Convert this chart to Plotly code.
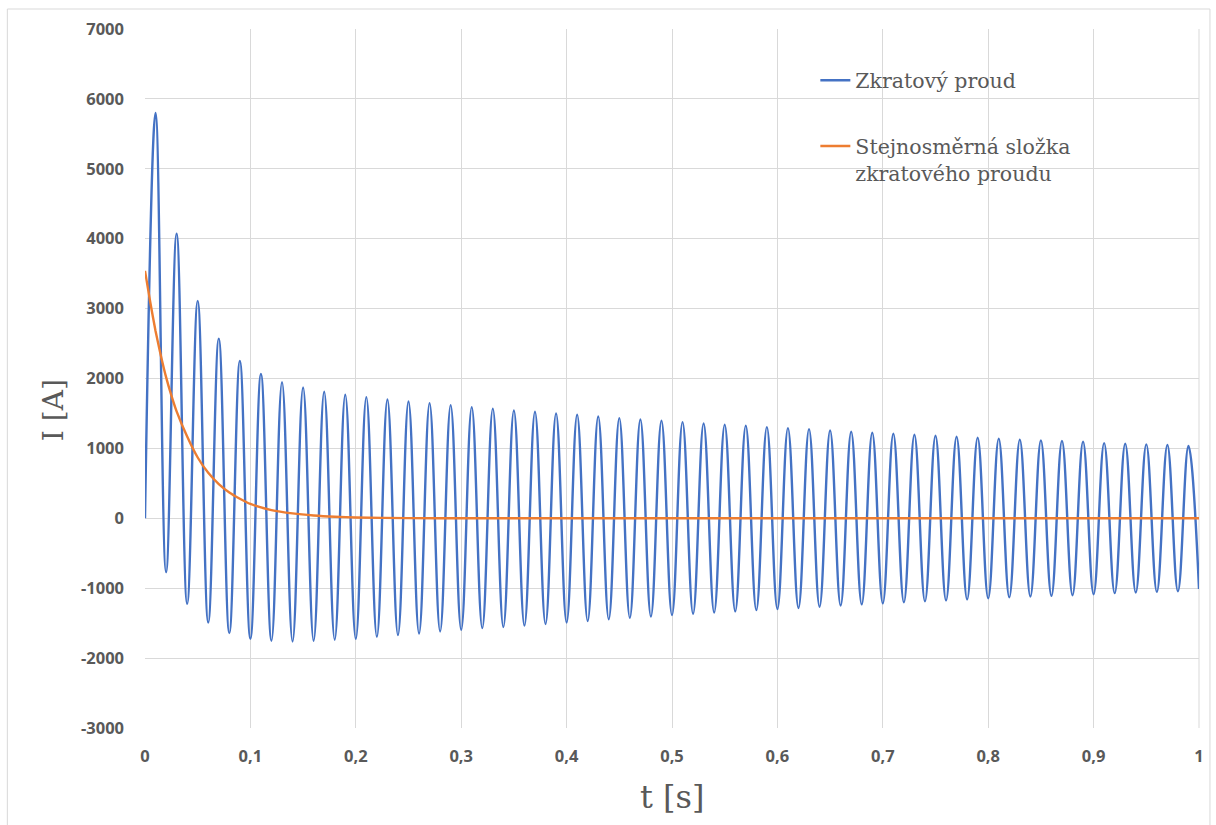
import numpy as np
import plotly.graph_objects as go

# Short-circuit current: local maxima (odd half-periods) and minima (even half-periods), in A
peak_t = np.round(np.arange(0.01, 1.0, 0.02), 2)
peak_i = [5800, 4070, 3110, 2570, 2250, 2065, 1948, 1871, 1810, 1767,
          1733, 1700, 1671, 1648, 1619, 1590, 1569, 1543, 1524, 1500,
          1481, 1457, 1433, 1414, 1395, 1376, 1357, 1338, 1324, 1305,
          1290, 1276, 1257, 1239, 1224, 1210, 1195, 1181, 1167, 1152,
          1138, 1124, 1114, 1105, 1095, 1076, 1067, 1057, 1048, 1034]

trough_t = np.round(np.arange(0.0, 1.0001, 0.02), 2)
trough_i = [0, -770, -1224, -1491, -1643, -1724, -1752, -1762, -1752, -1738,
            -1724, -1695, -1671, -1648, -1619, -1595, -1571, -1555, -1535, -1512,
            -1490, -1470, -1445, -1424, -1405, -1385, -1366, -1347, -1331, -1314,
            -1298, -1283, -1266, -1248, -1231, -1217, -1202, -1188, -1174, -1160,
            -1145, -1131, -1119, -1110, -1100, -1086, -1071, -1062, -1052, -1043,
            -1010]

# DC component of the short-circuit current
dc_t = [0, 0.005, 0.01, 0.015, 0.02, 0.025, 0.03, 0.04, 0.05, 0.06, 0.07,
        0.08, 0.09, 0.1, 0.12, 0.14, 0.16, 0.18, 0.2, 0.25, 0.3, 1.0]
dc_i = [3540, 3090, 2680, 2330, 2020, 1760, 1530, 1170, 870, 650, 490,
        370, 280, 205, 118, 70, 40, 22, 12, 3, 0, 0]

# axis ticks
y_ticks = [-3000, -2000, -1000, 0, 1000, 2000, 3000, 4000, 5000, 6000, 7000]
y_labels = ["-3000", "-2000", "-1000", "0", "1000", "2000", "3000",
            "4000", "5000", "6000", "7000"]
x_ticks = [0, 0.1, 0.2, 0.3, 0.4, 0.5, 0.6, 0.7, 0.8, 0.9, 1]
x_labels = ["0", "0,1", "0,2", "0,3", "0,4", "0,5", "0,6", "0,7", "0,8", "0,9", "1"]

# merge maxima and minima in time order
blue_t, blue_i = [], []
for k in range(len(trough_t)):
    blue_t.append(trough_t[k]); blue_i.append(trough_i[k])
    if k < len(peak_t):
        blue_t.append(peak_t[k]); blue_i.append(peak_i[k])

GRAY = "#595959"
GRID = "#d9d9d9"
TICKFONT = dict(family="Open Sans", size=16.5, color=GRAY, weight=700)
SERIF = "DejaVu Serif"

fig = go.Figure()
fig.add_trace(go.Scatter(
    x=blue_t, y=blue_i, mode="lines", name="Zkratový proud",
    line=dict(color="#4472C4", width=2.4, shape="spline", smoothing=1.15),
    legendgroup="a"))
fig.add_trace(go.Scatter(
    x=dc_t, y=dc_i, mode="lines", name="Stejnosměrná složka<br>zkratového proudu",
    line=dict(color="#ED7D31", width=2.4, shape="spline", smoothing=0.6),
    legendgroup="b"))

fig.update_layout(
    width=1216, height=825,
    margin=dict(l=145, r=14, t=29, b=97),
    paper_bgcolor="white", plot_bgcolor="white",
    showlegend=True,
    legend=dict(x=0.636, y=0.955, xanchor="left", yanchor="top",
                bgcolor="rgba(0,0,0,0)", font=dict(family=SERIF, size=20.5, color=GRAY),
                itemwidth=30, tracegroupgap=36, valign="top"),
    xaxis=dict(range=[0, 1], tickvals=x_ticks, ticktext=x_labels, showgrid=True,
               gridcolor=GRID, gridwidth=1, zeroline=False, showline=False, ticks="",
               tickfont=TICKFONT, ticklabelstandoff=16),
    yaxis=dict(range=[-3000, 7000], tickvals=y_ticks, ticktext=y_labels, showgrid=True,
               gridcolor=GRID, gridwidth=1, zeroline=False, showline=False, ticks="",
               tickfont=TICKFONT, ticklabelstandoff=20),
    annotations=[
        dict(text="I [A]", xref="paper", yref="paper", x=-0.0861, y=0.455,
             xanchor="center", yanchor="middle", showarrow=False, textangle=-90,
             font=dict(family=SERIF, size=28, color=GRAY)),
        dict(text="t [s]", xref="paper", yref="paper", x=0.5, y=-0.099,
             xanchor="center", yanchor="middle", showarrow=False,
             font=dict(family=SERIF, size=32, color=GRAY)),
    ],
    shapes=[
        dict(type="rect", xref="paper", yref="paper", x0=-0.1306, x1=1.0104,
             y0=-0.14, y1=1.0286, line=dict(color=GRID, width=1), layer="below"),
        dict(type="line", xref="paper", yref="paper", x0=1, x1=1, y0=0, y1=1,
             line=dict(color=GRID, width=1), layer="below"),
    ],
)

fig.write_html("out.html")
